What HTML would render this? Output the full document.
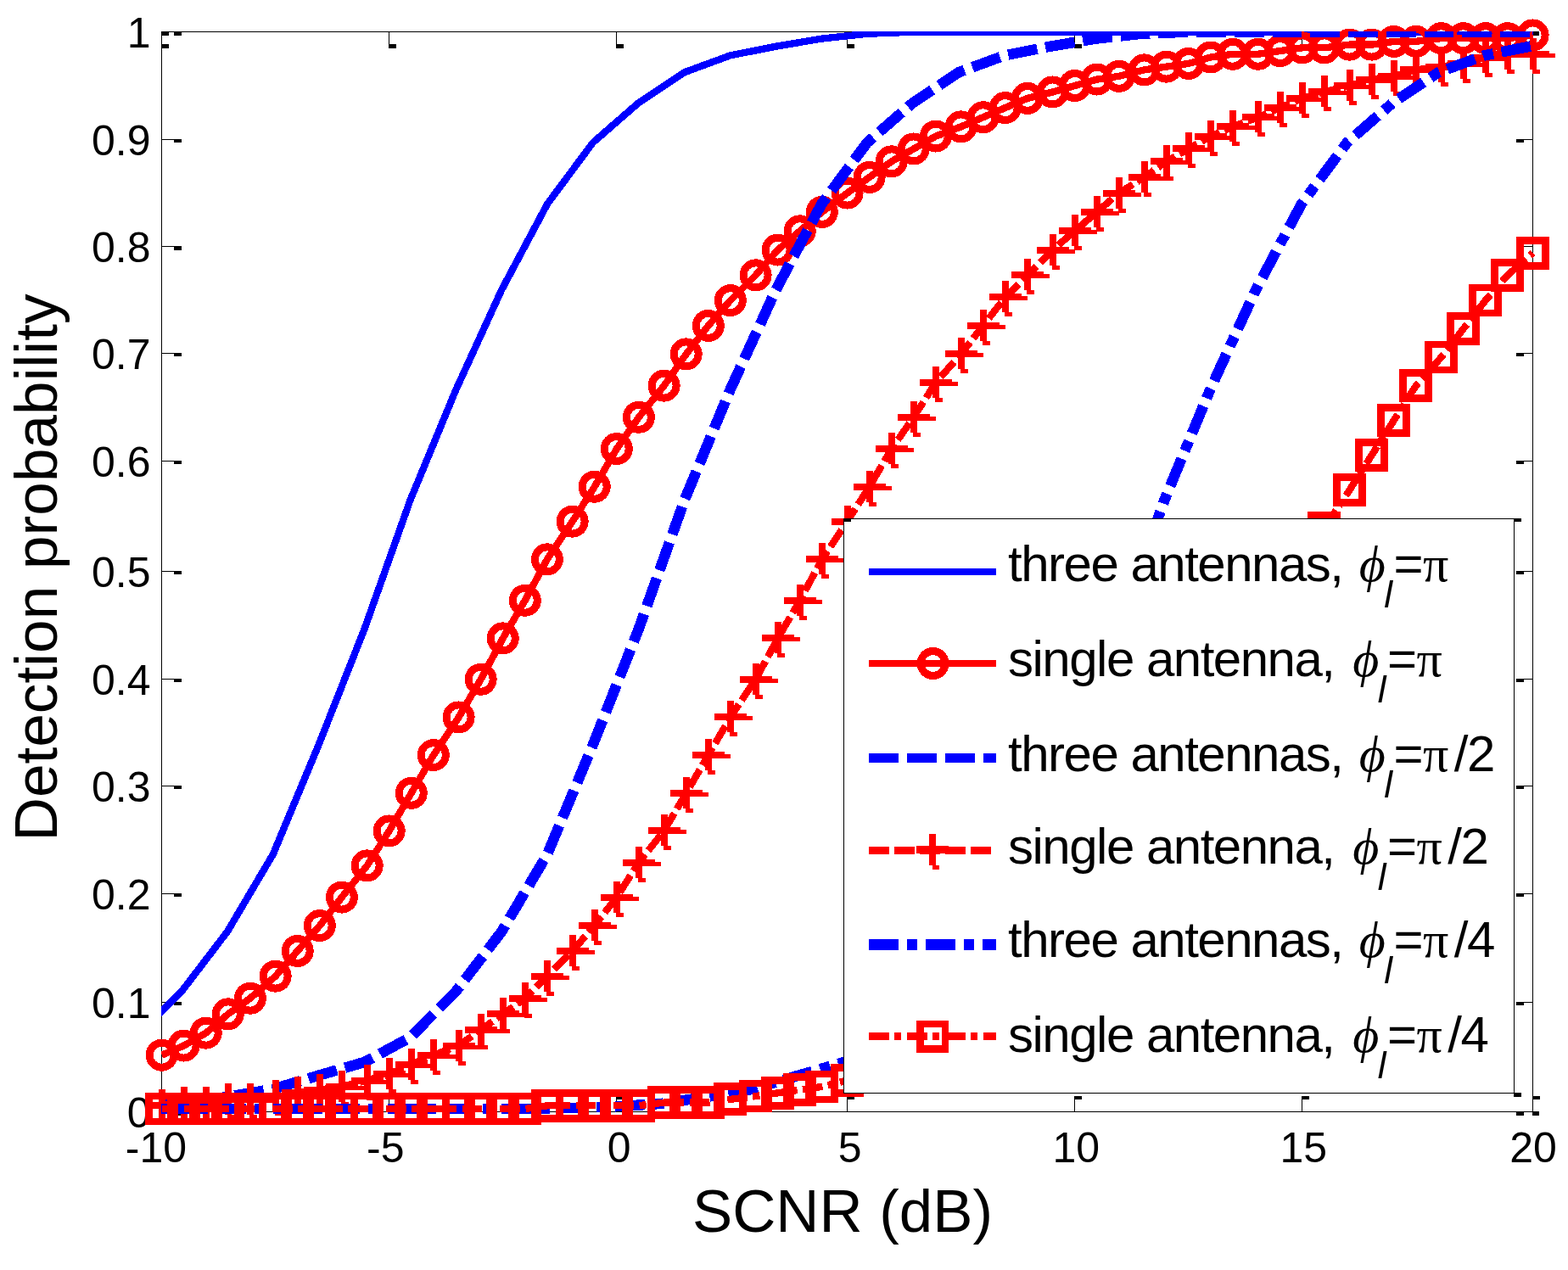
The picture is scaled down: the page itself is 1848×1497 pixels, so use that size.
<!DOCTYPE html>
<html lang="en"><head><meta charset="utf-8"><title>Detection probability vs SCNR</title>
<style>html,body{margin:0;padding:0;background:#fff}body{width:1848px;height:1497px;overflow:hidden}svg{display:block}
text{font-family:"Liberation Sans",sans-serif;fill:#000}.tk{font-size:50px}.lb{font-size:70.8px}.lg{font-size:60px;letter-spacing:-1.5px}.sym{font-family:"Liberation Serif",serif}.it{font-style:italic}</style></head><body>
<svg width="1848" height="1497" viewBox="0 0 1848 1497">
<rect width="1848" height="1497" fill="#fff"/>
<defs><clipPath id="cp"><rect x="190" y="37" width="1640" height="1300"/></clipPath></defs>
<g shape-rendering="crispEdges" fill="#000">
<rect x="190" y="37" width="1617" height="1"/><rect x="190" y="1310" width="1617" height="1"/>
<rect x="190" y="37" width="1" height="1274"/><rect x="1806" y="37" width="1" height="1274"/>
<rect x="190" y="37" width="1" height="16"/><rect x="190" y="52" width="9" height="5"/>
<rect x="190" y="1295" width="1" height="16"/><rect x="190" y="1292" width="9" height="4"/>
<rect x="458" y="37" width="1" height="16"/><rect x="458" y="52" width="9" height="5"/>
<rect x="458" y="1295" width="1" height="16"/><rect x="458" y="1292" width="9" height="4"/>
<rect x="726" y="37" width="1" height="16"/><rect x="726" y="52" width="9" height="5"/>
<rect x="726" y="1295" width="1" height="16"/><rect x="726" y="1292" width="9" height="4"/>
<rect x="998" y="37" width="1" height="16"/><rect x="998" y="52" width="9" height="5"/>
<rect x="998" y="1295" width="1" height="16"/><rect x="998" y="1292" width="9" height="4"/>
<rect x="1266" y="37" width="1" height="16"/><rect x="1266" y="52" width="9" height="5"/>
<rect x="1266" y="1295" width="1" height="16"/><rect x="1266" y="1292" width="9" height="4"/>
<rect x="1534" y="37" width="1" height="16"/><rect x="1534" y="52" width="9" height="5"/>
<rect x="1534" y="1295" width="1" height="16"/><rect x="1534" y="1292" width="9" height="4"/>
<rect x="1806" y="37" width="1" height="16"/><rect x="1806" y="52" width="9" height="5"/>
<rect x="1806" y="1295" width="1" height="16"/><rect x="1806" y="1292" width="9" height="4"/>
<rect x="190" y="37" width="16" height="1"/><rect x="205" y="37" width="9" height="5"/>
<rect x="1796" y="37" width="11" height="1"/><rect x="1787" y="37" width="9" height="5"/>
<rect x="190" y="164" width="16" height="1"/><rect x="205" y="164" width="9" height="4"/>
<rect x="1796" y="164" width="11" height="1"/><rect x="1787" y="164" width="9" height="4"/>
<rect x="190" y="290" width="16" height="1"/><rect x="205" y="290" width="9" height="5"/>
<rect x="1796" y="290" width="11" height="1"/><rect x="1787" y="290" width="9" height="4"/>
<rect x="190" y="416" width="16" height="1"/><rect x="205" y="416" width="9" height="4"/>
<rect x="1796" y="416" width="11" height="1"/><rect x="1787" y="416" width="9" height="4"/>
<rect x="190" y="543" width="16" height="1"/><rect x="205" y="543" width="9" height="4"/>
<rect x="1796" y="543" width="11" height="1"/><rect x="1787" y="543" width="9" height="4"/>
<rect x="190" y="673" width="16" height="1"/><rect x="205" y="673" width="9" height="4"/>
<rect x="1796" y="673" width="11" height="1"/><rect x="1787" y="673" width="9" height="4"/>
<rect x="190" y="800" width="16" height="1"/><rect x="205" y="800" width="9" height="4"/>
<rect x="1796" y="800" width="11" height="1"/><rect x="1787" y="800" width="9" height="4"/>
<rect x="190" y="926" width="16" height="1"/><rect x="205" y="926" width="9" height="4"/>
<rect x="1796" y="926" width="11" height="1"/><rect x="1787" y="926" width="9" height="4"/>
<rect x="190" y="1053" width="16" height="1"/><rect x="205" y="1053" width="9" height="4"/>
<rect x="1796" y="1053" width="11" height="1"/><rect x="1787" y="1053" width="9" height="4"/>
<rect x="190" y="1181" width="16" height="1"/><rect x="205" y="1181" width="9" height="4"/>
<rect x="1796" y="1181" width="11" height="1"/><rect x="1787" y="1181" width="9" height="4"/>
<rect x="190" y="1310" width="16" height="1"/><rect x="205" y="1310" width="9" height="5"/>
<rect x="1796" y="1310" width="11" height="1"/><rect x="1787" y="1310" width="9" height="5"/>
<rect x="190" y="37" width="9" height="5"/><rect x="1806" y="37" width="8" height="5"/><rect x="1806" y="1310" width="8" height="5"/><rect x="1806" y="1292" width="8" height="4"/>
</g>
<text class="tk" x="183.9" y="1369.5" text-anchor="middle">-10</text>
<text class="tk" x="454.3" y="1369.5" text-anchor="middle">-5</text>
<text class="tk" x="729.6" y="1369.5" text-anchor="middle">0</text>
<text class="tk" x="1001.6" y="1369.5" text-anchor="middle">5</text>
<text class="tk" x="1268.3" y="1369.5" text-anchor="middle">10</text>
<text class="tk" x="1536.2" y="1369.5" text-anchor="middle">15</text>
<text class="tk" x="1807.1" y="1369.5" text-anchor="middle">20</text>
<text class="tk" x="177.5" y="55.5" text-anchor="end">1</text>
<text class="tk" x="177.5" y="182.5" text-anchor="end">0.9</text>
<text class="tk" x="177.5" y="308.5" text-anchor="end">0.8</text>
<text class="tk" x="177.5" y="434.5" text-anchor="end">0.7</text>
<text class="tk" x="177.5" y="561.5" text-anchor="end">0.6</text>
<text class="tk" x="177.5" y="691.5" text-anchor="end">0.5</text>
<text class="tk" x="177.5" y="818.5" text-anchor="end">0.4</text>
<text class="tk" x="177.5" y="944.5" text-anchor="end">0.3</text>
<text class="tk" x="177.5" y="1071.5" text-anchor="end">0.2</text>
<text class="tk" x="177.5" y="1199.5" text-anchor="end">0.1</text>
<text class="tk" x="177.5" y="1328.5" text-anchor="end">0</text>
<text class="lb" x="993" y="1451.5" text-anchor="middle">SCNR (dB)</text>
<text class="lb" style="font-size:71.2px" transform="translate(66.5,669) rotate(-90)" text-anchor="middle">Detection probability</text>
<g shape-rendering="crispEdges" fill="none" stroke-linejoin="miter" stroke-linecap="butt">
<polyline clip-path="url(#cp)" points="160.20,1222.91 214.06,1168.64 267.93,1098.17 321.80,1007.05 375.66,877.76 429.53,741.38 483.40,589.82 537.26,459.64 591.13,341.84 645.00,240.58 698.86,168.00 752.73,121.10 806.60,85.26 860.46,65.45 914.33,54.72 968.20,45.62 1022.06,39.78 1075.93,37.73 1129.80,37.73 1183.66,37.73 1237.53,37.73 1291.40,37.72 1345.26,37.72 1399.13,37.72 1453.00,37.72 1506.86,37.72 1560.73,37.72 1614.60,37.72 1668.46,37.72 1722.33,37.72 1776.20,37.72 1806.90,37.72" stroke="#0000ff" stroke-width="8.33" stroke-linejoin="round"/>
<polyline clip-path="url(#cp)" points="190.60,1243.72 216.66,1232.56 242.73,1217.67 268.79,1195.33 294.86,1176.72 324.65,1150.67 350.71,1120.89 376.78,1091.11 402.84,1057.61 432.63,1020.39 458.69,979.44 484.76,934.78 510.82,890.11 540.61,845.44 566.67,800.78 592.74,752.39 618.80,707.72 644.87,659.33 674.66,614.67 700.72,573.72 726.78,529.06 752.85,491.83 782.64,454.61 808.70,417.39 834.77,383.89 860.83,354.11 890.62,324.33 916.68,294.56 942.75,272.22 968.81,249.89 998.60,227.56 1024.66,208.94 1050.73,190.33 1076.79,175.44 1102.86,160.56 1132.65,149.39 1158.71,138.22 1184.78,127.06 1210.84,115.89 1240.63,108.44 1266.69,101.00 1292.76,93.56 1318.82,89.83 1348.61,82.39 1374.67,78.67 1400.74,74.94 1426.80,67.50 1452.87,63.78 1482.66,63.78 1508.72,60.06 1534.78,56.33 1560.85,56.33 1590.64,52.61 1616.70,52.61 1642.77,48.89 1668.83,48.89 1698.62,45.17 1724.68,45.17 1750.75,45.17 1776.81,45.17 1806.60,41.44" stroke="#ff0000" stroke-width="8.33" stroke-linejoin="round"/>
<g stroke="#ff0000" stroke-width="9">
<circle cx="190.60" cy="1243.72" r="14.5"/>
<circle cx="216.66" cy="1232.56" r="14.5"/>
<circle cx="242.73" cy="1217.67" r="14.5"/>
<circle cx="268.79" cy="1195.33" r="14.5"/>
<circle cx="294.86" cy="1176.72" r="14.5"/>
<circle cx="324.65" cy="1150.67" r="14.5"/>
<circle cx="350.71" cy="1120.89" r="14.5"/>
<circle cx="376.78" cy="1091.11" r="14.5"/>
<circle cx="402.84" cy="1057.61" r="14.5"/>
<circle cx="432.63" cy="1020.39" r="14.5"/>
<circle cx="458.69" cy="979.44" r="14.5"/>
<circle cx="484.76" cy="934.78" r="14.5"/>
<circle cx="510.82" cy="890.11" r="14.5"/>
<circle cx="540.61" cy="845.44" r="14.5"/>
<circle cx="566.67" cy="800.78" r="14.5"/>
<circle cx="592.74" cy="752.39" r="14.5"/>
<circle cx="618.80" cy="707.72" r="14.5"/>
<circle cx="644.87" cy="659.33" r="14.5"/>
<circle cx="674.66" cy="614.67" r="14.5"/>
<circle cx="700.72" cy="573.72" r="14.5"/>
<circle cx="726.78" cy="529.06" r="14.5"/>
<circle cx="752.85" cy="491.83" r="14.5"/>
<circle cx="782.64" cy="454.61" r="14.5"/>
<circle cx="808.70" cy="417.39" r="14.5"/>
<circle cx="834.77" cy="383.89" r="14.5"/>
<circle cx="860.83" cy="354.11" r="14.5"/>
<circle cx="890.62" cy="324.33" r="14.5"/>
<circle cx="916.68" cy="294.56" r="14.5"/>
<circle cx="942.75" cy="272.22" r="14.5"/>
<circle cx="968.81" cy="249.89" r="14.5"/>
<circle cx="998.60" cy="227.56" r="14.5"/>
<circle cx="1024.66" cy="208.94" r="14.5"/>
<circle cx="1050.73" cy="190.33" r="14.5"/>
<circle cx="1076.79" cy="175.44" r="14.5"/>
<circle cx="1102.86" cy="160.56" r="14.5"/>
<circle cx="1132.65" cy="149.39" r="14.5"/>
<circle cx="1158.71" cy="138.22" r="14.5"/>
<circle cx="1184.78" cy="127.06" r="14.5"/>
<circle cx="1210.84" cy="115.89" r="14.5"/>
<circle cx="1240.63" cy="108.44" r="14.5"/>
<circle cx="1266.69" cy="101.00" r="14.5"/>
<circle cx="1292.76" cy="93.56" r="14.5"/>
<circle cx="1318.82" cy="89.83" r="14.5"/>
<circle cx="1348.61" cy="82.39" r="14.5"/>
<circle cx="1374.67" cy="78.67" r="14.5"/>
<circle cx="1400.74" cy="74.94" r="14.5"/>
<circle cx="1426.80" cy="67.50" r="14.5"/>
<circle cx="1452.87" cy="63.78" r="14.5"/>
<circle cx="1482.66" cy="63.78" r="14.5"/>
<circle cx="1508.72" cy="60.06" r="14.5"/>
<circle cx="1534.78" cy="56.33" r="14.5"/>
<circle cx="1560.85" cy="56.33" r="14.5"/>
<circle cx="1590.64" cy="52.61" r="14.5"/>
<circle cx="1616.70" cy="52.61" r="14.5"/>
<circle cx="1642.77" cy="48.89" r="14.5"/>
<circle cx="1668.83" cy="48.89" r="14.5"/>
<circle cx="1698.62" cy="45.17" r="14.5"/>
<circle cx="1724.68" cy="45.17" r="14.5"/>
<circle cx="1750.75" cy="45.17" r="14.5"/>
<circle cx="1776.81" cy="45.17" r="14.5"/>
<circle cx="1806.60" cy="41.44" r="14.5"/>
</g>
<polyline clip-path="url(#cp)" points="160.20,1304.27 214.06,1300.89 267.93,1292.91 321.80,1283.75 375.66,1267.60 429.53,1251.97 483.40,1222.91 537.26,1168.64 591.13,1098.17 645.00,1007.05 698.86,877.76 752.73,741.38 806.60,589.82 860.46,459.64 914.33,341.84 968.20,240.58 1022.06,168.00 1075.93,121.10 1129.80,85.26 1183.66,65.45 1237.53,54.72 1291.40,45.62 1345.26,39.78 1399.13,37.73 1453.00,37.73 1506.86,37.73 1560.73,37.73 1614.60,37.72 1668.46,37.72 1722.33,37.72 1776.20,37.72 1806.90,37.72" stroke="#0000ff" stroke-width="12.50" stroke-dasharray="34.8 9.97" stroke-dashoffset="17.2"/>
<polyline clip-path="url(#cp)" points="190.60,1303.28 216.66,1299.56 242.73,1299.56 268.79,1295.83 294.86,1295.83 324.65,1292.11 350.71,1288.39 376.78,1284.67 402.84,1280.94 432.63,1273.50 458.69,1266.06 484.76,1254.89 510.82,1243.72 540.61,1232.56 566.67,1213.94 592.74,1195.33 618.80,1176.72 644.87,1150.67 674.66,1120.89 700.72,1091.11 726.78,1057.61 752.85,1016.67 782.64,979.44 808.70,934.78 834.77,890.11 860.83,845.44 890.62,800.78 916.68,752.39 942.75,707.72 968.81,659.33 998.60,614.67 1024.66,573.72 1050.73,529.06 1076.79,491.83 1102.86,450.89 1132.65,417.39 1158.71,383.89 1184.78,350.39 1210.84,324.33 1240.63,294.56 1266.69,272.22 1292.76,249.89 1318.82,227.56 1348.61,208.94 1374.67,190.33 1400.74,175.44 1426.80,160.56 1452.87,149.39 1482.66,138.22 1508.72,127.06 1534.78,115.89 1560.85,108.44 1590.64,101.00 1616.70,93.56 1642.77,89.83 1668.83,82.39 1698.62,78.67 1724.68,74.94 1750.75,67.50 1776.81,63.78 1806.60,63.78" stroke="#ff0000" stroke-width="8.33" stroke-dasharray="23.85 6" stroke-dashoffset="2.82"/>
<g fill="#ff0000" stroke="none">
<rect x="187" y="1284" width="8" height="37"/><rect x="172" y="1299" width="38" height="8"/><rect x="190" y="1321" width="9" height="5"/><rect x="210" y="1302" width="7" height="5"/>
<rect x="213" y="1281" width="8" height="37"/><rect x="198" y="1296" width="38" height="8"/><rect x="216" y="1318" width="9" height="5"/><rect x="236" y="1299" width="7" height="5"/>
<rect x="239" y="1281" width="8" height="37"/><rect x="224" y="1296" width="38" height="8"/><rect x="242" y="1318" width="9" height="5"/><rect x="262" y="1299" width="7" height="5"/>
<rect x="265" y="1277" width="8" height="37"/><rect x="250" y="1292" width="38" height="8"/><rect x="268" y="1314" width="9" height="5"/><rect x="288" y="1295" width="7" height="5"/>
<rect x="291" y="1277" width="8" height="37"/><rect x="276" y="1292" width="38" height="8"/><rect x="294" y="1314" width="9" height="5"/><rect x="314" y="1295" width="7" height="5"/>
<rect x="321" y="1273" width="8" height="37"/><rect x="306" y="1288" width="38" height="8"/><rect x="324" y="1310" width="9" height="5"/><rect x="344" y="1291" width="7" height="5"/>
<rect x="347" y="1269" width="8" height="37"/><rect x="332" y="1284" width="38" height="8"/><rect x="350" y="1306" width="9" height="5"/><rect x="370" y="1287" width="7" height="5"/>
<rect x="373" y="1266" width="8" height="37"/><rect x="358" y="1281" width="38" height="8"/><rect x="376" y="1303" width="9" height="5"/><rect x="396" y="1284" width="7" height="5"/>
<rect x="399" y="1262" width="8" height="37"/><rect x="384" y="1277" width="38" height="8"/><rect x="402" y="1299" width="9" height="5"/><rect x="422" y="1280" width="7" height="5"/>
<rect x="429" y="1255" width="8" height="37"/><rect x="414" y="1270" width="38" height="8"/><rect x="432" y="1292" width="9" height="5"/><rect x="452" y="1273" width="7" height="5"/>
<rect x="455" y="1247" width="8" height="37"/><rect x="440" y="1262" width="38" height="8"/><rect x="458" y="1284" width="9" height="5"/><rect x="478" y="1265" width="7" height="5"/>
<rect x="481" y="1236" width="8" height="37"/><rect x="466" y="1251" width="38" height="8"/><rect x="484" y="1273" width="9" height="5"/><rect x="504" y="1254" width="7" height="5"/>
<rect x="507" y="1225" width="8" height="37"/><rect x="492" y="1240" width="38" height="8"/><rect x="510" y="1262" width="9" height="5"/><rect x="530" y="1243" width="7" height="5"/>
<rect x="537" y="1214" width="8" height="37"/><rect x="522" y="1229" width="38" height="8"/><rect x="540" y="1251" width="9" height="5"/><rect x="560" y="1232" width="7" height="5"/>
<rect x="563" y="1195" width="8" height="37"/><rect x="548" y="1210" width="38" height="8"/><rect x="566" y="1232" width="9" height="5"/><rect x="586" y="1213" width="7" height="5"/>
<rect x="589" y="1176" width="8" height="37"/><rect x="574" y="1191" width="38" height="8"/><rect x="592" y="1213" width="9" height="5"/><rect x="612" y="1194" width="7" height="5"/>
<rect x="615" y="1158" width="8" height="37"/><rect x="600" y="1173" width="38" height="8"/><rect x="618" y="1195" width="9" height="5"/><rect x="638" y="1176" width="7" height="5"/>
<rect x="641" y="1132" width="8" height="37"/><rect x="626" y="1147" width="38" height="8"/><rect x="644" y="1169" width="9" height="5"/><rect x="664" y="1150" width="7" height="5"/>
<rect x="671" y="1102" width="8" height="37"/><rect x="656" y="1117" width="38" height="8"/><rect x="674" y="1139" width="9" height="5"/><rect x="694" y="1120" width="7" height="5"/>
<rect x="697" y="1072" width="8" height="37"/><rect x="682" y="1087" width="38" height="8"/><rect x="700" y="1109" width="9" height="5"/><rect x="720" y="1090" width="7" height="5"/>
<rect x="723" y="1039" width="8" height="37"/><rect x="708" y="1054" width="38" height="8"/><rect x="726" y="1076" width="9" height="5"/><rect x="746" y="1057" width="7" height="5"/>
<rect x="749" y="998" width="8" height="37"/><rect x="734" y="1013" width="38" height="8"/><rect x="752" y="1035" width="9" height="5"/><rect x="772" y="1016" width="7" height="5"/>
<rect x="779" y="960" width="8" height="37"/><rect x="764" y="975" width="38" height="8"/><rect x="782" y="997" width="9" height="5"/><rect x="802" y="978" width="7" height="5"/>
<rect x="805" y="916" width="8" height="37"/><rect x="790" y="931" width="38" height="8"/><rect x="808" y="953" width="9" height="5"/><rect x="828" y="934" width="7" height="5"/>
<rect x="831" y="871" width="8" height="37"/><rect x="816" y="886" width="38" height="8"/><rect x="834" y="908" width="9" height="5"/><rect x="854" y="889" width="7" height="5"/>
<rect x="857" y="826" width="8" height="37"/><rect x="842" y="841" width="38" height="8"/><rect x="860" y="863" width="9" height="5"/><rect x="880" y="844" width="7" height="5"/>
<rect x="887" y="782" width="8" height="37"/><rect x="872" y="797" width="38" height="8"/><rect x="890" y="819" width="9" height="5"/><rect x="910" y="800" width="7" height="5"/>
<rect x="913" y="733" width="8" height="37"/><rect x="898" y="748" width="38" height="8"/><rect x="916" y="770" width="9" height="5"/><rect x="936" y="751" width="7" height="5"/>
<rect x="939" y="689" width="8" height="37"/><rect x="924" y="704" width="38" height="8"/><rect x="942" y="726" width="9" height="5"/><rect x="962" y="707" width="7" height="5"/>
<rect x="965" y="640" width="8" height="37"/><rect x="950" y="655" width="38" height="8"/><rect x="968" y="677" width="9" height="5"/><rect x="988" y="658" width="7" height="5"/>
<rect x="995" y="596" width="8" height="37"/><rect x="980" y="611" width="38" height="8"/><rect x="998" y="633" width="9" height="5"/><rect x="1018" y="614" width="7" height="5"/>
<rect x="1021" y="555" width="8" height="37"/><rect x="1006" y="570" width="38" height="8"/><rect x="1024" y="592" width="9" height="5"/><rect x="1044" y="573" width="7" height="5"/>
<rect x="1047" y="510" width="8" height="37"/><rect x="1032" y="525" width="38" height="8"/><rect x="1050" y="547" width="9" height="5"/><rect x="1070" y="528" width="7" height="5"/>
<rect x="1073" y="473" width="8" height="37"/><rect x="1058" y="488" width="38" height="8"/><rect x="1076" y="510" width="9" height="5"/><rect x="1096" y="491" width="7" height="5"/>
<rect x="1099" y="432" width="8" height="37"/><rect x="1084" y="447" width="38" height="8"/><rect x="1102" y="469" width="9" height="5"/><rect x="1122" y="450" width="7" height="5"/>
<rect x="1129" y="398" width="8" height="37"/><rect x="1114" y="413" width="38" height="8"/><rect x="1132" y="435" width="9" height="5"/><rect x="1152" y="416" width="7" height="5"/>
<rect x="1155" y="365" width="8" height="37"/><rect x="1140" y="380" width="38" height="8"/><rect x="1158" y="402" width="9" height="5"/><rect x="1178" y="383" width="7" height="5"/>
<rect x="1181" y="331" width="8" height="37"/><rect x="1166" y="346" width="38" height="8"/><rect x="1184" y="368" width="9" height="5"/><rect x="1204" y="349" width="7" height="5"/>
<rect x="1207" y="305" width="8" height="37"/><rect x="1192" y="320" width="38" height="8"/><rect x="1210" y="342" width="9" height="5"/><rect x="1230" y="323" width="7" height="5"/>
<rect x="1237" y="276" width="8" height="37"/><rect x="1222" y="291" width="38" height="8"/><rect x="1240" y="313" width="9" height="5"/><rect x="1260" y="294" width="7" height="5"/>
<rect x="1263" y="253" width="8" height="37"/><rect x="1248" y="268" width="38" height="8"/><rect x="1266" y="290" width="9" height="5"/><rect x="1286" y="271" width="7" height="5"/>
<rect x="1289" y="231" width="8" height="37"/><rect x="1274" y="246" width="38" height="8"/><rect x="1292" y="268" width="9" height="5"/><rect x="1312" y="249" width="7" height="5"/>
<rect x="1315" y="209" width="8" height="37"/><rect x="1300" y="224" width="38" height="8"/><rect x="1318" y="246" width="9" height="5"/><rect x="1338" y="227" width="7" height="5"/>
<rect x="1345" y="190" width="8" height="37"/><rect x="1330" y="205" width="38" height="8"/><rect x="1348" y="227" width="9" height="5"/><rect x="1368" y="208" width="7" height="5"/>
<rect x="1371" y="171" width="8" height="37"/><rect x="1356" y="186" width="38" height="8"/><rect x="1374" y="208" width="9" height="5"/><rect x="1394" y="189" width="7" height="5"/>
<rect x="1397" y="156" width="8" height="37"/><rect x="1382" y="171" width="38" height="8"/><rect x="1400" y="193" width="9" height="5"/><rect x="1420" y="174" width="7" height="5"/>
<rect x="1423" y="142" width="8" height="37"/><rect x="1408" y="157" width="38" height="8"/><rect x="1426" y="179" width="9" height="5"/><rect x="1446" y="160" width="7" height="5"/>
<rect x="1449" y="130" width="8" height="37"/><rect x="1434" y="145" width="38" height="8"/><rect x="1452" y="167" width="9" height="5"/><rect x="1472" y="148" width="7" height="5"/>
<rect x="1479" y="119" width="8" height="37"/><rect x="1464" y="134" width="38" height="8"/><rect x="1482" y="156" width="9" height="5"/><rect x="1502" y="137" width="7" height="5"/>
<rect x="1505" y="108" width="8" height="37"/><rect x="1490" y="123" width="38" height="8"/><rect x="1508" y="145" width="9" height="5"/><rect x="1528" y="126" width="7" height="5"/>
<rect x="1531" y="97" width="8" height="37"/><rect x="1516" y="112" width="38" height="8"/><rect x="1534" y="134" width="9" height="5"/><rect x="1554" y="115" width="7" height="5"/>
<rect x="1557" y="89" width="8" height="37"/><rect x="1542" y="104" width="38" height="8"/><rect x="1560" y="126" width="9" height="5"/><rect x="1580" y="107" width="7" height="5"/>
<rect x="1587" y="82" width="8" height="37"/><rect x="1572" y="97" width="38" height="8"/><rect x="1590" y="119" width="9" height="5"/><rect x="1610" y="100" width="7" height="5"/>
<rect x="1613" y="75" width="8" height="37"/><rect x="1598" y="90" width="38" height="8"/><rect x="1616" y="112" width="9" height="5"/><rect x="1636" y="93" width="7" height="5"/>
<rect x="1639" y="71" width="8" height="37"/><rect x="1624" y="86" width="38" height="8"/><rect x="1642" y="108" width="9" height="5"/><rect x="1662" y="89" width="7" height="5"/>
<rect x="1665" y="63" width="8" height="37"/><rect x="1650" y="78" width="38" height="8"/><rect x="1668" y="100" width="9" height="5"/><rect x="1688" y="81" width="7" height="5"/>
<rect x="1695" y="60" width="8" height="37"/><rect x="1680" y="75" width="38" height="8"/><rect x="1698" y="97" width="9" height="5"/><rect x="1718" y="78" width="7" height="5"/>
<rect x="1721" y="56" width="8" height="37"/><rect x="1706" y="71" width="38" height="8"/><rect x="1724" y="93" width="9" height="5"/><rect x="1744" y="74" width="7" height="5"/>
<rect x="1747" y="49" width="8" height="37"/><rect x="1732" y="64" width="38" height="8"/><rect x="1750" y="86" width="9" height="5"/><rect x="1770" y="67" width="7" height="5"/>
<rect x="1773" y="45" width="8" height="37"/><rect x="1758" y="60" width="38" height="8"/><rect x="1776" y="82" width="9" height="5"/><rect x="1796" y="63" width="7" height="5"/>
<rect x="1803" y="45" width="8" height="37"/><rect x="1788" y="60" width="38" height="8"/><rect x="1806" y="82" width="9" height="5"/><rect x="1826" y="63" width="7" height="5"/>
</g>
<polyline clip-path="url(#cp)" points="133.26,1307.00 187.13,1307.00 241.00,1307.00 294.86,1307.00 348.73,1307.00 402.60,1307.00 456.46,1307.00 510.33,1307.00 564.20,1307.00 618.06,1306.98 671.93,1306.02 725.80,1304.27 779.66,1300.89 833.53,1292.91 887.40,1283.75 941.26,1267.60 995.13,1251.97 1049.00,1222.91 1102.86,1168.64 1156.73,1098.17 1210.60,1007.05 1264.46,877.76 1318.33,741.38 1372.20,589.82 1426.06,459.64 1479.93,341.84 1533.80,240.58 1587.66,168.00 1641.53,121.10 1695.40,85.26 1749.26,65.45 1803.13,54.72 1806.90,54.08" stroke="#0000ff" stroke-width="12.50" stroke-dasharray="34.8 9.97 12.4 9.97" stroke-dashoffset="12.34"/>
<polyline clip-path="url(#cp)" points="190.60,1307.00 216.66,1307.00 242.73,1307.00 268.79,1307.00 294.86,1307.00 324.65,1307.00 350.71,1307.00 376.78,1307.00 402.84,1307.00 432.63,1307.00 458.69,1307.00 484.76,1307.00 510.82,1307.00 540.61,1307.00 566.67,1307.00 592.74,1307.00 618.80,1307.00 644.87,1303.28 674.66,1303.28 700.72,1303.28 726.78,1303.28 752.85,1303.28 782.64,1299.56 808.70,1299.56 834.77,1299.56 860.83,1295.83 890.62,1292.11 916.68,1288.39 942.75,1284.67 968.81,1280.94 998.60,1273.50 1024.66,1266.06 1050.73,1254.89 1076.79,1243.72 1102.86,1232.56 1132.65,1217.67 1158.71,1199.06 1184.78,1176.72 1210.84,1154.39 1240.63,1124.61 1266.69,1094.83 1292.76,1061.33 1318.82,1024.11 1348.61,986.89 1374.67,942.22 1400.74,897.56 1426.80,852.89 1452.87,808.22 1482.66,759.83 1508.72,715.17 1534.78,666.78 1560.85,622.11 1590.64,577.44 1616.70,536.50 1642.77,495.56 1668.83,454.61 1698.62,421.11 1724.68,387.61 1750.75,354.11 1776.81,324.33 1806.60,298.28" stroke="#ff0000" stroke-width="8.33" stroke-dasharray="23.85 6.31 8.3 6.31" stroke-dashoffset="4.20"/>
<g stroke="#ff0000" stroke-width="8.7">
<rect x="175.60" y="1292.00" width="30" height="30"/>
<rect x="201.66" y="1292.00" width="30" height="30"/>
<rect x="227.73" y="1292.00" width="30" height="30"/>
<rect x="253.79" y="1292.00" width="30" height="30"/>
<rect x="279.86" y="1292.00" width="30" height="30"/>
<rect x="309.65" y="1292.00" width="30" height="30"/>
<rect x="335.71" y="1292.00" width="30" height="30"/>
<rect x="361.78" y="1292.00" width="30" height="30"/>
<rect x="387.84" y="1292.00" width="30" height="30"/>
<rect x="417.63" y="1292.00" width="30" height="30"/>
<rect x="443.69" y="1292.00" width="30" height="30"/>
<rect x="469.76" y="1292.00" width="30" height="30"/>
<rect x="495.82" y="1292.00" width="30" height="30"/>
<rect x="525.61" y="1292.00" width="30" height="30"/>
<rect x="551.67" y="1292.00" width="30" height="30"/>
<rect x="577.74" y="1292.00" width="30" height="30"/>
<rect x="603.80" y="1292.00" width="30" height="30"/>
<rect x="629.87" y="1288.28" width="30" height="30"/>
<rect x="659.66" y="1288.28" width="30" height="30"/>
<rect x="685.72" y="1288.28" width="30" height="30"/>
<rect x="711.78" y="1288.28" width="30" height="30"/>
<rect x="737.85" y="1288.28" width="30" height="30"/>
<rect x="767.64" y="1284.56" width="30" height="30"/>
<rect x="793.70" y="1284.56" width="30" height="30"/>
<rect x="819.77" y="1284.56" width="30" height="30"/>
<rect x="845.83" y="1280.83" width="30" height="30"/>
<rect x="875.62" y="1277.11" width="30" height="30"/>
<rect x="901.68" y="1273.39" width="30" height="30"/>
<rect x="927.75" y="1269.67" width="30" height="30"/>
<rect x="953.81" y="1265.94" width="30" height="30"/>
<rect x="983.60" y="1258.50" width="30" height="30"/>
<rect x="1009.66" y="1251.06" width="30" height="30"/>
<rect x="1035.73" y="1239.89" width="30" height="30"/>
<rect x="1061.79" y="1228.72" width="30" height="30"/>
<rect x="1087.86" y="1217.56" width="30" height="30"/>
<rect x="1117.65" y="1202.67" width="30" height="30"/>
<rect x="1143.71" y="1184.06" width="30" height="30"/>
<rect x="1169.78" y="1161.72" width="30" height="30"/>
<rect x="1195.84" y="1139.39" width="30" height="30"/>
<rect x="1225.63" y="1109.61" width="30" height="30"/>
<rect x="1251.69" y="1079.83" width="30" height="30"/>
<rect x="1277.76" y="1046.33" width="30" height="30"/>
<rect x="1303.82" y="1009.11" width="30" height="30"/>
<rect x="1333.61" y="971.89" width="30" height="30"/>
<rect x="1359.67" y="927.22" width="30" height="30"/>
<rect x="1385.74" y="882.56" width="30" height="30"/>
<rect x="1411.80" y="837.89" width="30" height="30"/>
<rect x="1437.87" y="793.22" width="30" height="30"/>
<rect x="1467.66" y="744.83" width="30" height="30"/>
<rect x="1493.72" y="700.17" width="30" height="30"/>
<rect x="1519.78" y="651.78" width="30" height="30"/>
<rect x="1545.85" y="607.11" width="30" height="30"/>
<rect x="1575.64" y="562.44" width="30" height="30"/>
<rect x="1601.70" y="521.50" width="30" height="30"/>
<rect x="1627.77" y="480.56" width="30" height="30"/>
<rect x="1653.83" y="439.61" width="30" height="30"/>
<rect x="1683.62" y="406.11" width="30" height="30"/>
<rect x="1709.68" y="372.61" width="30" height="30"/>
<rect x="1735.75" y="339.11" width="30" height="30"/>
<rect x="1761.81" y="309.33" width="30" height="30"/>
<rect x="1791.60" y="283.28" width="30" height="30"/>
</g>
</g>
<g shape-rendering="crispEdges">
<rect x="994.5" y="611.5" width="790" height="677" fill="#fff" stroke="#000" stroke-width="1"/>
<g fill="#000"><rect x="994" y="611" width="9" height="4"/><rect x="1784" y="611" width="9" height="4"/><rect x="1784" y="1288" width="9" height="5"/></g>
<g fill="none" stroke-linecap="butt">
<line x1="1024" y1="674.0" x2="1174" y2="674.0" stroke="#0000ff" stroke-width="8"/>
<line x1="1024" y1="782.0" x2="1174" y2="782.0" stroke="#ff0000" stroke-width="8"/>
<circle cx="1099.6" cy="782.0" r="14.5" stroke="#ff0000" stroke-width="9"/>
<line x1="1024" y1="893.7" x2="1174" y2="893.7" stroke="#0000ff" stroke-width="11.5" stroke-dasharray="35 10"/>
<line x1="1024" y1="1002.0" x2="1174" y2="1002.0" stroke="#ff0000" stroke-width="9" stroke-dasharray="24 6"/>
<g fill="#ff0000"><rect x="1095" y="983" width="8" height="37"/><rect x="1080" y="997" width="38" height="9"/><rect x="1099" y="1020" width="8" height="5"/></g>
<line x1="1024" y1="1113.7" x2="1174" y2="1113.7" stroke="#0000ff" stroke-width="13" stroke-dasharray="35 10 12 10"/>
<line x1="1024" y1="1221.7" x2="1174" y2="1221.7" stroke="#ff0000" stroke-width="9" stroke-dasharray="24 6 8 7"/>
<rect x="1084.25" y="1206.95" width="29.5" height="29.5" stroke="#ff0000" stroke-width="8.5"/>
</g></g>
<text class="lg" x="1188" y="684.8" xml:space="preserve">three antennas, <tspan class="sym it" dx="4">ϕ</tspan><tspan class="it" dy="31" font-size="44">l</tspan><tspan dy="-31" dx="3">=</tspan><tspan class="sym" dx="1">π</tspan></text>
<text class="lg" x="1188" y="796.7" xml:space="preserve">single antenna, <tspan class="sym it" dx="6.5">ϕ</tspan><tspan class="it" dy="31" font-size="44">l</tspan><tspan dy="-31" dx="3">=</tspan><tspan class="sym" dx="1">π</tspan></text>
<text class="lg" x="1188" y="908.7" xml:space="preserve">three antennas, <tspan class="sym it" dx="4">ϕ</tspan><tspan class="it" dy="31" font-size="44">l</tspan><tspan dy="-31" dx="3">=</tspan><tspan class="sym" dx="1">π</tspan><tspan dx="8">/2</tspan></text>
<text class="lg" x="1188" y="1017.8" xml:space="preserve">single antenna, <tspan class="sym it" dx="6.5">ϕ</tspan><tspan class="it" dy="31" font-size="44">l</tspan><tspan dy="-31" dx="3">=</tspan><tspan class="sym" dx="1">π</tspan><tspan dx="8">/2</tspan></text>
<text class="lg" x="1188" y="1128.1" xml:space="preserve">three antennas, <tspan class="sym it" dx="4">ϕ</tspan><tspan class="it" dy="31" font-size="44">l</tspan><tspan dy="-31" dx="3">=</tspan><tspan class="sym" dx="1">π</tspan><tspan dx="8">/4</tspan></text>
<text class="lg" x="1188" y="1239.8" xml:space="preserve">single antenna, <tspan class="sym it" dx="6.5">ϕ</tspan><tspan class="it" dy="31" font-size="44">l</tspan><tspan dy="-31" dx="3">=</tspan><tspan class="sym" dx="1">π</tspan><tspan dx="8">/4</tspan></text>
</svg></body></html>
